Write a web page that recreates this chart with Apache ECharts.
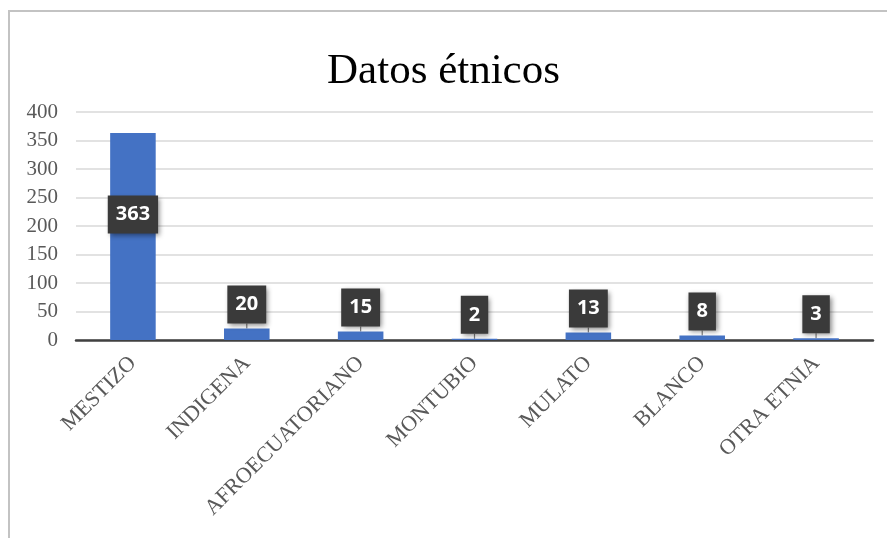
<!DOCTYPE html>
<html>
<head>
<meta charset="utf-8">
<script src="https://cdn.jsdelivr.net/npm/echarts@6/dist/echarts.min.js"></script>
<style>
  body { margin: 0; background: #fff; }
  #frame {
    position: absolute; left: 8px; top: 10px; right: 0; bottom: 0;
    border-left: 2px solid #c3c3c3; border-top: 2px solid #c3c3c3;
  }
  #chart { position: absolute; left: 0; top: 0; width: 887px; height: 538px; }
</style>
</head>
<body>
<div id="frame"></div>
<div id="chart"></div>
<script>
var titleText = 'Datos étnicos'
var categories = ['MESTIZO', 'INDIGENA', 'AFROECUATORIANO', 'MONTUBIO', 'MULATO', 'BLANCO', 'OTRA ETNIA']
var counts = [363, 20, 15, 2, 13, 8, 3]
var yTicks = [0, 50, 100, 150, 200, 250, 300, 350, 400]

var myChart = echarts.init(document.getElementById('chart'))

// big bar gets its label inside, the small ones sit on top with a leader line
var barData = counts.map(function (v) {
  if (v > 100) {
    return { value: v, label: { position: 'inside' }, labelLine: { show: false } }
  }
  return { value: v }
})

var option = {
  animation: false,
  title: {
    text: titleText,
    left: 'center',
    top: 45,
    textStyle: {
      fontFamily: 'Liberation Serif',
      fontSize: 43,
      fontWeight: 'normal',
      color: '#000'
    }
  },
  grid: {
    left: 76,
    right: 14,
    top: 112,
    bottom: 198
  },
  xAxis: {
    type: 'category',
    data: categories,
    axisTick: { show: false },
    axisLine: {
      lineStyle: { color: '#404040', width: 2.5 }
    },
    axisLabel: {
      interval: 0,
      rotate: 45,
      margin: 20,
      fontFamily: 'Liberation Serif',
      fontSize: 22,
      color: '#595959'
    }
  },
  yAxis: {
    type: 'value',
    min: yTicks[0],
    max: yTicks[yTicks.length - 1],
    interval: yTicks[1] - yTicks[0],
    axisLine: { show: false },
    axisTick: { show: false },
    axisLabel: {
      margin: 18,
      fontFamily: 'Liberation Serif',
      fontSize: 21,
      color: '#595959'
    },
    splitLine: {
      lineStyle: { color: '#d9d9d9', width: 1.5 }
    }
  },
  series: [
    {
      name: 'Datos',
      type: 'bar',
      barWidth: '40%',
      itemStyle: { color: '#4472c4' },
      data: barData,
      label: {
        show: true,
        position: 'top',
        distance: 2,
        fontFamily: 'Noto Sans',
        fontWeight: 'bold',
        fontSize: 20,
        color: '#fff',
        backgroundColor: '#3a3a3a',
        padding: [9, 8, 9, 8],
        shadowColor: 'rgba(0,0,0,0.45)',
        shadowBlur: 5,
        shadowOffsetX: 2,
        shadowOffsetY: 2
      },
      labelLayout: function (params) {
        return { dy: counts[params.dataIndex] > 100 ? -22 : -3 }
      },
      labelLine: {
        show: true,
        lineStyle: { color: '#7f7f7f', width: 1.2 }
      }
    }
  ]
}
myChart.setOption(option)
</script>
</body>
</html>
